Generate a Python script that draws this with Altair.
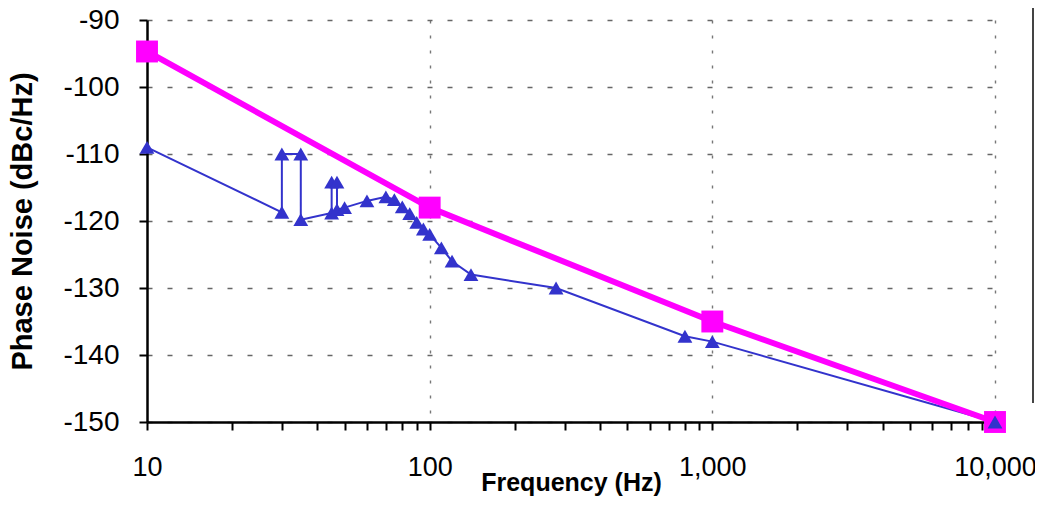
import altair as alt
import pandas as pd

# Measured phase noise (blue triangles), in drawing order
blue_freq = [10, 30, 30, 35, 35, 45, 45, 47, 47, 50, 60, 70, 75, 80, 85, 90, 95, 100,
             110, 120, 140, 280, 800, 1000, 10000]
blue_pn = [-109, -118.7, -110, -110, -119.8, -118.8, -114.2, -114.2, -118.3, -118, -117,
           -116.4, -116.8, -117.9, -118.9, -120.2, -121.2, -122, -124, -126, -128, -130,
           -137.2, -138, -150]

# Specification limit (magenta squares)
mag_freq = [10, 100, 1000, 10000]
mag_pn = [-94.7, -118, -135, -150]

y_ticks = [-150, -140, -130, -120, -110, -100, -90]
x_ticks = [10, 20, 30, 40, 50, 60, 70, 80, 90,
           100, 200, 300, 400, 500, 600, 700, 800, 900,
           1000, 2000, 3000, 4000, 5000, 6000, 7000, 8000, 9000, 10000]

blue = pd.DataFrame({"f": blue_freq, "pn": blue_pn, "i": list(range(len(blue_freq)))})
mag = pd.DataFrame({"f": mag_freq, "pn": mag_pn, "i": list(range(len(mag_freq)))})

FONT = "Liberation Sans"

x_enc = alt.X(
    "f:Q",
    scale=alt.Scale(type="log", domain=[10, 10000], nice=False),
    axis=alt.Axis(
        values=x_ticks,
        labelExpr="indexof([10,100,1000,10000], datum.value) >= 0 ? format(datum.value, ',') : ''",
        title="Frequency (Hz)",
        titleFont=FONT, titleFontSize=25, titleFontWeight="bold", titleColor="black",
        titleY=68, titleBaseline="alphabetic",
        labelFont=FONT, labelFontSize=27, labelColor="black", labelPadding=24,
        labelFlush=False, labelOverlap=False,
        tickSize=8, tickWidth=2, tickColor="black",
        domainColor="black", domainWidth=2.5,
        grid=True,
        gridOpacity={"condition": {"test": "indexof([100,1000,10000], datum.value) >= 0", "value": 1}, "value": 0},
        gridDash=[3, 12], gridColor="#777777", gridWidth=1.4,
    ),
)
y_enc = alt.Y(
    "pn:Q",
    scale=alt.Scale(domain=[-150, -90], nice=False, zero=False),
    axis=alt.Axis(
        values=y_ticks,
        labelExpr="'' + datum.value",
        title="Phase Noise (dBc/Hz)",
        titleFont=FONT, titleFontSize=29, titleFontWeight="bold", titleColor="black",
        titleX=-125, titleBaseline="middle",
        labelFont=FONT, labelFontSize=28, labelColor="black", labelPadding=20,
        tickSize=8, tickWidth=2, tickColor="black",
        domainColor="black", domainWidth=2.5,
        grid=True, gridDash=[5, 15], gridColor="#666666", gridWidth=1.5,
    ),
)

blue_line = alt.Chart(blue).mark_line(color="#3333CC", strokeWidth=2).encode(
    x=x_enc, y=y_enc, order="i:Q")
mag_line = alt.Chart(mag).mark_line(color="#FF00FF", strokeWidth=6).encode(
    x=x_enc, y=y_enc, order="i:Q")
mag_pts = alt.Chart(mag).mark_point(shape="square", filled=True, size=480, opacity=1,
                                    color="#FF00FF").encode(x=x_enc, y=y_enc)
blue_pts = alt.Chart(blue).mark_point(shape="triangle-up", filled=True, size=220, opacity=1,
                                      color="#3333CC").encode(x=x_enc, y=y_enc)

edge = alt.Chart(pd.DataFrame({"a": [0]})).mark_rule(color="#444444", strokeWidth=2).encode(
    x=alt.value(886), y=alt.value(-12), y2=alt.value(383))

chart = alt.layer(blue_line, mag_line, mag_pts, blue_pts, edge).properties(
    width=848, height=402,
    autosize="none",
    padding={"left": 139, "top": 12, "right": 40, "bottom": 75},
).configure_view(strokeWidth=0)

chart.save("out.html", embed_options={"renderer": "svg", "actions": False})
